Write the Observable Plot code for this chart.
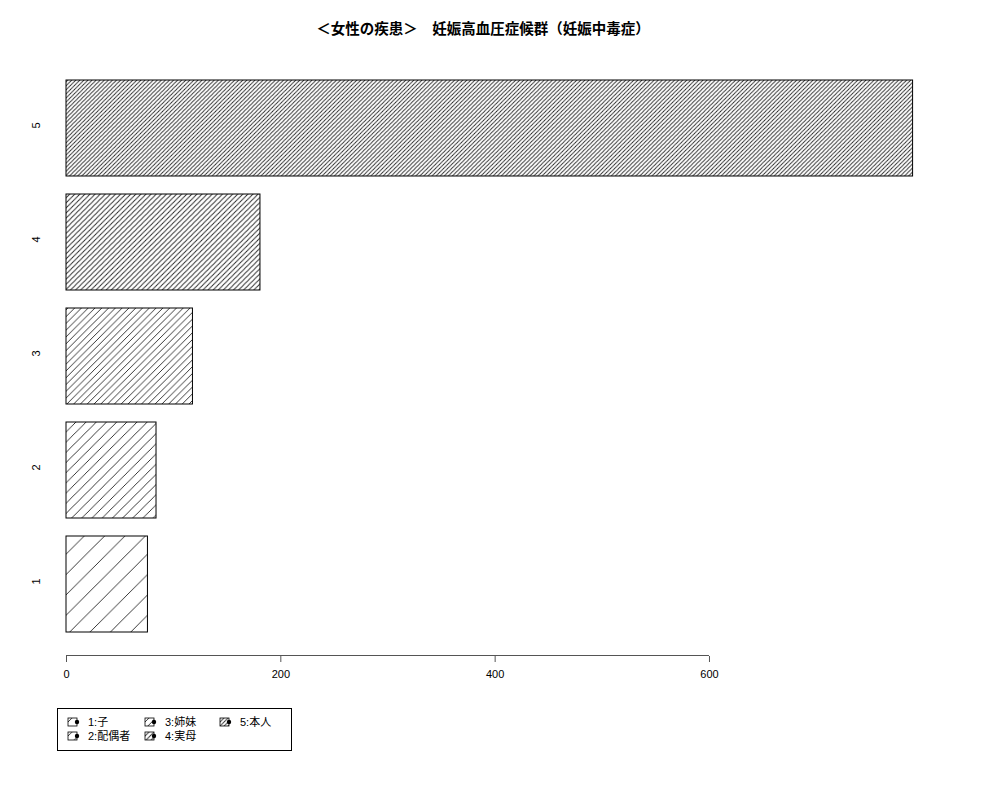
<!DOCTYPE html>
<html>
<head>
<meta charset="utf-8">
<script src="https://cdn.jsdelivr.net/npm/d3@7"></script>
<script src="https://cdn.jsdelivr.net/npm/@observablehq/plot@0.6"></script>
<style>
  body { margin: 0; background: #fff; font-family: "Liberation Sans", "Noto Sans CJK JP", sans-serif; }
  #wrap { position: relative; width: 1000px; height: 800px; }
  #title { position: absolute; left: 0; top: 17px; width: 966px; text-align: center;
           font: bold 14.5px "Noto Sans CJK JP", sans-serif; color: #000; }
  #chart { position: absolute; left: 0; top: 50px; }
  #legend { position: absolute; left: 57px; top: 708px; }
</style>
</head>
<body>
<div id="wrap">
  <div id="title"></div>
  <div id="chart"></div>
  <div id="legend"></div>
</div>
<svg width="0" height="0" style="position:absolute">
  <defs id="defs"></defs>
</svg>
<script>
const title = "＜女性の疾患＞　妊娠高血圧症候群（妊娠中毒症）";
const categories = ["1", "2", "3", "4", "5"];
const values = [76, 84, 118, 181, 790];
const legendLabels = ["1:子", "2:配偶者", "3:姉妹", "4:実母", "5:本人"];
const hatchDensity = [5, 10, 15, 20, 25]; // lines per inch
const xTicks = [0, 200, 400, 600];

document.getElementById("title").textContent = title;

// hatch patterns
const ns = "http://www.w3.org/2000/svg";
const defs = document.getElementById("defs");
categories.forEach((c, i) => {
  const w = 72 * Math.SQRT2 / hatchDensity[i];
  const p = document.createElementNS(ns, "pattern");
  p.setAttribute("id", "hatch" + c);
  p.setAttribute("patternUnits", "userSpaceOnUse");
  p.setAttribute("width", w);
  p.setAttribute("height", w);
  const path = document.createElementNS(ns, "path");
  path.setAttribute("d", `M0,${w}L${w},0M${-w/2},${w/2}L${w/2},${-w/2}M${w/2},${w*1.5}L${w*1.5},${w/2}`);
  path.setAttribute("stroke", "#222");
  path.setAttribute("stroke-width", "0.9");
  path.setAttribute("fill", "none");
  p.appendChild(path);
  defs.appendChild(p);
});

const data = categories.map((c, i) => ({cat: c, value: values[i]}));

const chart = Plot.plot({
  width: 1000,
  height: 650,
  marginLeft: 66,
  marginRight: 76.7,
  marginTop: 20,
  marginBottom: 44,
  style: {fontFamily: "'Liberation Sans', sans-serif", fontSize: "11px", color: "#000", background: "#fff"},
  x: {domain: [0, 800]},
  y: {axis: null, domain: ["5", "4", "3", "2", "1"], range: [19.84, 592.34], paddingInner: 0.16, paddingOuter: 0.08},
  marks: [
    Plot.barX(data, {x: "value", y: "cat", fill: d => `url(#hatch${d.cat})`, stroke: "#000", strokeWidth: 1, insetTop: 0, insetBottom: 0}),
    Plot.ruleY(["1"], {x1: 0, x2: 600, dy: 71, stroke: "#555", strokeWidth: 1}),
    Plot.axisX({ticks: xTicks, tickSize: 6, tickPadding: 8, tickFormat: d => String(d), stroke: "#555", label: null}),
    Plot.text(categories, {y: d => d, frameAnchor: "left", dx: -30, rotate: -90, text: d => d, fontSize: 11, fill: "#000"})
  ]
});
document.getElementById("chart").appendChild(chart);

// legend (column-major, 2 rows)
const legend = d3.select("#legend").append("svg").attr("width", 236).attr("height", 44);
legend.append("rect").attr("x", 0.5).attr("y", 0.5).attr("width", 234).attr("height", 42)
  .attr("fill", "#fff").attr("stroke", "#000");
const colX = [11, 88, 163];
const rowY = [14, 28];
categories.forEach((c, i) => {
  const col = Math.floor(i / 2), row = i % 2;
  const g = legend.append("g").attr("transform", `translate(${colX[col]},${rowY[row]})`);
  g.append("rect").attr("x", 0).attr("y", -4).attr("width", 9).attr("height", 8)
    .attr("fill", `url(#hatch${c})`).attr("stroke", "#000").attr("stroke-width", 0.8);
  g.append("circle").attr("cx", 9).attr("cy", 0).attr("r", 2.2).attr("fill", "#000");
  g.append("text").attr("x", 20).attr("y", 4).attr("font-size", 11)
    .attr("font-family", "'Liberation Sans', 'Noto Sans CJK JP', sans-serif")
    .text(legendLabels[i]);
});
</script>
</body>
</html>
